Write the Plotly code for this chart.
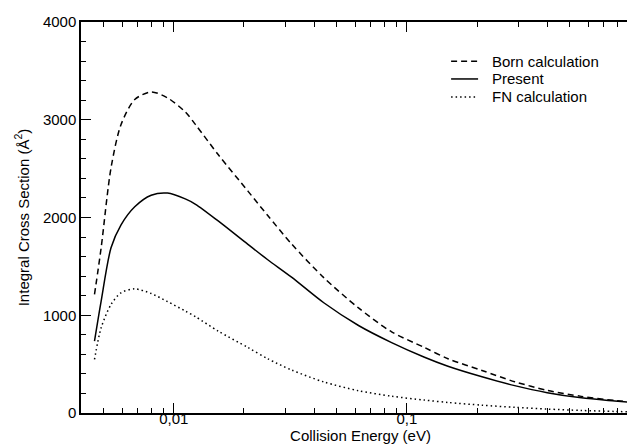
import plotly.graph_objects as go

energy = [0.00457, 0.00488, 0.00538, 0.00594, 0.0068, 0.008, 0.0094, 0.0112, 0.0124,
          0.0155, 0.0208, 0.0253, 0.032, 0.044, 0.062, 0.086, 0.119, 0.15, 0.21,
          0.29, 0.40, 0.56, 0.78, 1.0]
born = [1213, 1690, 2508, 2951, 3207, 3285, 3224, 3080, 2950,
        2644, 2270, 2020, 1730, 1385, 1075, 830, 670, 555, 435,
        320, 232, 170, 128, 105]
present = [736, 1145, 1690, 1925, 2110, 2228, 2250, 2190, 2135,
           1965, 1725, 1568, 1390, 1128, 895, 720, 570, 478, 370,
           280, 208, 155, 122, 100]
fn = [548, 872, 1110, 1230, 1270, 1222, 1140, 1043, 985,
      838, 670, 555, 440, 318, 228, 172, 132, 108, 80,
      58, 40, 26, 16, 10]

series_names = ["Born calculation", "Present", "FN calculation"]
series_dash = ["6px,4px", "solid", "1.5px,3px"]

x_major = [0.01, 0.1, 1]
x_major_text = ["0,01", "0,1", "1"]
x_minor = [0.005, 0.006, 0.007, 0.008, 0.009,
           0.02, 0.03, 0.04, 0.05, 0.06, 0.07, 0.08, 0.09,
           0.2, 0.3, 0.4, 0.5, 0.6, 0.7, 0.8, 0.9]
y_major = [0, 1000, 2000, 3000, 4000]

FONT = "Liberation Sans, Arial, Helvetica, sans-serif"
W, H = 635, 447
ML, MR, MT, MB = 72.7, 3, 14, 41.7
PW, PH = W - ML - MR, H - MT - MB

fig = go.Figure()
for name, vals, dash in zip(series_names, [born, present, fn], series_dash):
    fig.add_trace(go.Scatter(x=energy, y=vals, mode="lines", name=name, showlegend=False,
                             line=dict(color="black", width=1.5, dash=dash, shape="spline",
                                       smoothing=0.8)))

# manual legend (pixel layout converted to paper coords)
def px_x(px):
    return (px - ML) / PW

def px_y(py):
    return (H - MB - py) / PH

leg_rows = [53.3, 71, 89]
for name, dash, ry in zip(series_names, series_dash, leg_rows):
    fig.add_shape(type="line", xref="paper", yref="paper",
                  x0=px_x(443), x1=px_x(470), y0=px_y(ry), y1=px_y(ry),
                  line=dict(color="black", width=1.5, dash=dash))
    fig.add_annotation(xref="paper", yref="paper", x=px_x(482), y=px_y(ry),
                       xanchor="left", yanchor="middle", showarrow=False,
                       text=name, font=dict(size=15, family=FONT, color="black"))

fig.update_layout(
    width=W, height=H,
    margin=dict(l=ML, r=MR, t=MT, b=MB),
    paper_bgcolor="white", plot_bgcolor="white",
    font=dict(family=FONT, size=15, color="black"),
    showlegend=False,
)
fig.update_xaxes(
    type="log", range=[-2.398, 0],
    tickmode="array", tickvals=x_major, ticktext=x_major_text,
    ticks="inside", ticklen=10, tickwidth=1.3, tickcolor="black",
    showline=True, linecolor="black", linewidth=1.5, mirror="ticks",
    showgrid=False, zeroline=False, ticklabeloverflow="allow",
    ticklabelstandoff=-9,
    minor=dict(tickmode="array", tickvals=x_minor, ticks="inside", ticklen=5,
               tickwidth=1.2, tickcolor="black", showgrid=False),
    title=dict(text="Collision Energy (eV)", standoff=1, font=dict(size=15)),
    automargin=False,
)
fig.update_yaxes(
    range=[0, 4000],
    tickmode="array", tickvals=y_major,
    ticks="inside", ticklen=10, tickwidth=1.3, tickcolor="black",
    showline=True, linecolor="black", linewidth=1.5, mirror="ticks",
    showgrid=False, zeroline=False, ticklabeloverflow="allow",
    minor=dict(dtick=200, ticks="inside", ticklen=5, tickwidth=1.2,
               tickcolor="black", showgrid=False),
    title=dict(text="Integral Cross Section (Å<sup>2</sup>)", standoff=10, font=dict(size=15)),
    automargin=False,
)

fig.write_html("out.html")
